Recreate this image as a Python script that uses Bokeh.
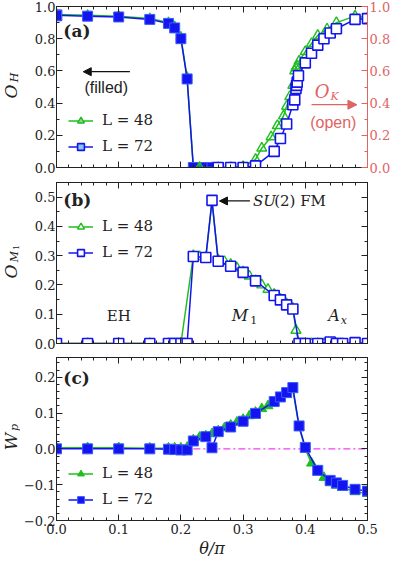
from math import pi
from bokeh.plotting import figure
from bokeh.layouts import column, row
from bokeh.models import (Range1d, LinearAxis, Label, Arrow, NormalHead, Legend, LegendItem,
                          SingleIntervalTicker, CustomJSTickFormatter, CustomLabelingPolicy)
from bokeh.embed import file_html
from bokeh.resources import INLINE

# ---------------- data ----------------
# panel (a): O_H (filled) and O_K (open)
theta_h72 = [0, 0.05, 0.10, 0.15, 0.18, 0.19, 0.20, 0.21, 0.22, 0.24, 0.25]
oh_72 = [0.945, 0.94, 0.935, 0.92, 0.895, 0.867, 0.80, 0.55, 0.0, 0.0, 0.0]
theta_h48 = [0, 0.05, 0.10, 0.15, 0.18, 0.19, 0.20, 0.21, 0.22, 0.23, 0.25]
oh_48 = [0.95, 0.945, 0.94, 0.925, 0.90, 0.875, 0.81, 0.56, 0.0, 0.0, 0.0]

theta_k72 = [0.26, 0.28, 0.30, 0.32, 0.35, 0.36, 0.37, 0.38, 0.383, 0.385, 0.386, 0.387, 0.389,
             0.40, 0.41, 0.42, 0.43, 0.44, 0.45, 0.48, 0.50]
ok_72 = [0.0, 0.0, 0.0, 0.01, 0.10, 0.18, 0.27, 0.39, 0.42, 0.49, 0.51, 0.53, 0.57,
         0.65, 0.71, 0.76, 0.80, 0.835, 0.862, 0.92, 0.925]
theta_k48 = [0.23, 0.26, 0.28, 0.30, 0.32, 0.33, 0.345, 0.355, 0.365, 0.37, 0.375, 0.38, 0.383,
             0.385, 0.387, 0.39, 0.40, 0.41, 0.42, 0.435, 0.45, 0.48, 0.50]
ok_48 = [0.0, 0.0, 0.0, 0.005, 0.05, 0.12, 0.19, 0.26, 0.32, 0.38, 0.44, 0.51, 0.60,
         0.62, 0.63, 0.66, 0.72, 0.77, 0.82, 0.86, 0.90, 0.94, 0.93]

# panels (b), (c)
theta72 = [0, 0.05, 0.10, 0.15, 0.18, 0.19, 0.20, 0.21, 0.22, 0.24, 0.25, 0.26, 0.28, 0.30,
           0.32, 0.35, 0.36, 0.37, 0.38, 0.39, 0.40, 0.42, 0.44, 0.45, 0.46, 0.48, 0.50]
om1_72 = [0, 0, 0, 0, 0, 0, 0, 0, 0.297, 0.294, 0.489, 0.281, 0.264, 0.243,
          0.214, 0.164, 0.149, 0.132, 0.118, 0, 0, 0, 0.005, 0, 0, 0.003, 0]
wp_72 = [0, 0, 0, 0, -0.001, -0.002, -0.003, -0.003, 0.022, 0.034, 0.003, 0.048, 0.061, 0.077,
         0.099, 0.132, 0.145, 0.157, 0.171, 0.064, 0.004, -0.060, -0.088, -0.095, -0.102, -0.113, -0.118]

theta48_b = [0, 0.05, 0.10, 0.15, 0.18, 0.19, 0.20, 0.22, 0.23, 0.24, 0.25, 0.26, 0.27, 0.28,
             0.29, 0.30, 0.31, 0.32, 0.33, 0.34, 0.35, 0.36, 0.37, 0.38, 0.385, 0.39, 0.40,
             0.41, 0.42, 0.43, 0.44, 0.45, 0.46, 0.48, 0.50]
om1_48 = [0, 0, 0, 0, 0, 0, 0, 0.300, 0.297, 0.293, 0.485, 0.285, 0.280, 0.270,
          0.258, 0.245, 0.230, 0.215, 0.200, 0.185, 0.168, 0.152, 0.135, 0.120, 0.045, 0, 0,
          0, 0, 0, 0, 0, 0, 0, 0]
theta48_c = [0, 0.05, 0.10, 0.15, 0.18, 0.19, 0.20, 0.21, 0.22, 0.23, 0.24, 0.25, 0.26, 0.27,
             0.28, 0.29, 0.30, 0.31, 0.32, 0.33, 0.34, 0.35, 0.36, 0.37, 0.38, 0.39, 0.40,
             0.41, 0.42, 0.43, 0.44, 0.45, 0.46, 0.48, 0.50]
wp_48 = [0.003, 0.003, 0.003, 0.002, 0.002, 0.002, 0.002, 0.004, 0.025, 0.032, 0.036, 0.042, 0.050, 0.058,
         0.066, 0.074, 0.082, 0.092, 0.102, 0.112, 0.120, 0.130, 0.140, 0.152, 0.165, 0.060, 0.000,
         -0.040, -0.065, -0.080, -0.095, -0.102, -0.108, -0.120, -0.125]

ref_x = [0.22, 0.50]
ref_y = [0.0, 0.0]

# ---------------- style ----------------
GREEN = "#1fbf1f"
BLUE = "#1414f0"
LBLUE = "#86c8ec"
LGREEN = "#93cf93"
RED = "#e06464"
MAG = "#f040f0"
SERIF = "DejaVu Serif"
SANS = "Liberation Sans"
TXT = "#222222"

LW = 20          # width of the strip that holds the y-axis titles
W = 393 - LW
LB, RB = 33, 25
HA, HB, HC = 174, 176, 212

fmt_code = "var s = tick.toFixed(1); if (Math.abs(tick) < 1e-9) { s = '0.0'; } return s.replace('-', '\u2212');"
hide_code = "for (let i = 0; i < indices.size; i++) { indices.unset(i); } return indices;"


def style_axis(ax, labels, color="#222222", label_color=TXT):
    ax.major_tick_in = 6
    ax.major_tick_out = 0
    ax.minor_tick_in = 3
    ax.minor_tick_out = 0
    ax.axis_line_color = color
    ax.major_tick_line_color = color
    ax.minor_tick_line_color = color
    if labels:
        ax.formatter = CustomJSTickFormatter(code=fmt_code)
        ax.major_label_text_font = SERIF
        ax.major_label_text_font_size = "13px"
        ax.major_label_text_color = label_color
        ax.major_label_standoff = 3
    else:
        ax.major_label_policy = CustomLabelingPolicy(code=hide_code)
        ax.major_label_text_font_size = "1px"
        ax.major_label_standoff = 0


def make_fig(height, yr, top, bottom, yint, yminor, xlabels=False, right_red=False):
    p = figure(width=W, height=height, x_range=Range1d(0, 0.5), y_range=Range1d(*yr),
               output_backend="svg", toolbar_location=None,
               min_border_left=LB, min_border_right=RB, min_border_top=top, min_border_bottom=bottom)
    p.xgrid.visible = False
    p.ygrid.visible = False
    p.outline_line_color = "#222222"
    xt = SingleIntervalTicker(interval=0.1, num_minor_ticks=5)
    yt = SingleIntervalTicker(interval=yint, num_minor_ticks=yminor)
    bottom_ax = p.below[0]
    left_ax = p.left[0]
    bottom_ax.ticker = xt
    left_ax.ticker = yt
    style_axis(bottom_ax, xlabels)
    style_axis(left_ax, True)
    left_ax.major_label_standoff = 1
    top_ax = LinearAxis(ticker=xt)
    style_axis(top_ax, False)
    p.add_layout(top_ax, "above")
    right_ax = LinearAxis(ticker=yt)
    if right_red:
        style_axis(right_ax, True, color=RED, label_color=RED)
        right_ax.major_label_standoff = 2
    else:
        style_axis(right_ax, False)
    p.add_layout(right_ax, "right")
    return p, bottom_ax


def txt(p, x, y, text, size, font=SERIF, style="normal", color=TXT, align="left",
        baseline="middle", angle=0, xo=0, yo=0, lh=1.2):
    p.add_layout(Label(x=x, y=y, text=text, text_font=font, text_font_size=size,
                       text_font_style=style, text_color=color, text_align=align,
                       text_baseline=baseline, angle=angle, x_offset=xo, y_offset=yo,
                       text_line_height=lh))


def legend(p, items, loc):
    lg = Legend(items=items, location=loc, background_fill_alpha=0, border_line_alpha=0,
                padding=0, margin=0, glyph_width=25, glyph_height=17, label_height=17,
                label_standoff=9, spacing=8, label_text_font=SERIF, label_text_font_size="15px",
                label_text_color=TXT)
    p.add_layout(lg)


def arrow(p, x0, x1, y, color, size=8):
    p.add_layout(Arrow(end=NormalHead(size=size, fill_color=color, line_color=color),
                       x_start=x0, y_start=y, x_end=x1, y_end=y,
                       line_color=color, line_width=1.3))


# ---------------- panel (a) ----------------
pa, _ = make_fig(HA, (0, 1.0), 6, 7, 0.2, 2, right_red=True)
# legend-style renderers (lie under the first data point, so they are hidden)
lga2 = pa.scatter(theta_h48[:1], oh_48[:1], marker="triangle", size=10, fill_color=LGREEN,
                  line_color=GREEN, line_width=1.4)
lga4 = pa.scatter(theta_h72[:1], oh_72[:1], marker="square", size=10, fill_color=LBLUE,
                  line_color=BLUE, line_width=1.6)
la1 = pa.line(theta_h48, oh_48, color=GREEN, line_width=1.5)
pa.scatter(theta_h48, oh_48, marker="triangle", size=10, fill_color=GREEN, line_color=GREEN)
la3 = pa.line(theta_h72, oh_72, color=BLUE, line_width=1.5)
pa.scatter(theta_h72, oh_72, marker="square", size=10, fill_color=BLUE, line_color="#3a5cff")
pa.line(theta_k48, ok_48, color=GREEN, line_width=1.5)
pa.scatter(theta_k48, ok_48, marker="triangle", size=10, fill_color="white", fill_alpha=0,
           line_color=GREEN, line_width=1.4)
pa.line(theta_k72, ok_72, color=BLUE, line_width=1.5)
pa.scatter(theta_k72, ok_72, marker="square", size=10, fill_color="white",
           line_color=BLUE, line_width=1.6)

legend(pa, [LegendItem(label="L = 48", renderers=[la1, lga2]),
            LegendItem(label="L = 72", renderers=[la3, lga4])], (12, 12))

txt(pa, 0.011, 0.85, "(a)", "17px", style="bold")
arrow(pa, 0.118, 0.043, 0.595, "#111111")
txt(pa, 0.08, 0.50, "(filled)", "16px", font=SANS, align="center")
txt(pa, 0.427, 0.47, "O", "18px", style="italic", color=RED, align="center")
txt(pa, 0.447, 0.44, "K", "11px", style="italic", color=RED, align="center")
arrow(pa, 0.41, 0.483, 0.39, RED, size=9)
txt(pa, 0.445, 0.28, "(open)", "16px", font=SANS, color=RED, align="center")

# ---------------- panel (b) ----------------
pb, _ = make_fig(HB, (0, 0.55), 8, 7, 0.1, 2)
lb1 = pb.line(theta48_b, om1_48, color=GREEN, line_width=1.5)
lb2 = pb.scatter(theta48_b, om1_48, marker="triangle", size=10, fill_color="white",
                 line_color=GREEN, line_width=1.4)
lb3 = pb.line(theta72, om1_72, color=BLUE, line_width=1.5)
lb4 = pb.scatter(theta72, om1_72, marker="square", size=10, fill_color="white",
                 line_color=BLUE, line_width=1.6)
legend(pb, [LegendItem(label="L = 48", renderers=[lb1, lb2]),
            LegendItem(label="L = 72", renderers=[lb3, lb4])], (12, 82))

txt(pb, 0.011, 0.49, "(b)", "17px", style="bold")
arrow(pb, 0.311, 0.262, 0.487, "#111111")
txt(pb, 0.316, 0.487, "SU", "15px", style="italic")
txt(pb, 0.350, 0.487, "(2) FM", "15px")
txt(pb, 0.10, 0.095, "EH", "15px", align="center")
txt(pb, 0.295, 0.095, "M", "16px", style="italic", align="center")
txt(pb, 0.317, 0.080, "1", "11px", align="center")
txt(pb, 0.446, 0.095, "A", "16px", style="italic", align="center")
txt(pb, 0.462, 0.080, "x", "11px", style="italic", align="center")

# ---------------- panel (c) ----------------
pc, xax_c = make_fig(HC, (-0.2, 0.255), 7, 42, 0.1, 5, xlabels=True)
xax_c.axis_label = "θ/π"
xax_c.axis_label_text_font = SERIF
xax_c.axis_label_text_font_style = "italic"
xax_c.axis_label_text_font_size = "16px"
xax_c.axis_label_text_color = TXT
xax_c.axis_label_standoff = 2

pc.line(ref_x, ref_y, color=MAG, line_width=1.2, line_dash="7 3 2 3")
lc1 = pc.line(theta48_c, wp_48, color=GREEN, line_width=1.5)
lc2 = pc.scatter(theta48_c, wp_48, marker="triangle", size=10, fill_color=GREEN, line_color=GREEN)
lc3 = pc.line(theta72, wp_72, color=BLUE, line_width=1.5)
lc4 = pc.scatter(theta72, wp_72, marker="square", size=10, fill_color=BLUE, line_color="#3a5cff")
legend(pc, [LegendItem(label="L = 48", renderers=[lc1, lc2]),
            LegendItem(label="L = 72", renderers=[lc3, lc4])], (12, 12))

txt(pc, 0.011, 0.199, "(c)", "17px", style="bold")

# ---------------- y-axis titles strip ----------------
HT = HA + HB + HC
pl = figure(width=LW, height=HT, x_range=Range1d(0, LW), y_range=Range1d(0, HT),
            output_backend="svg", toolbar_location=None, min_border=0)
pl.axis.visible = False
pl.grid.visible = False
pl.outline_line_color = None
# (a)  O_H
txt(pl, 10, HT - 91, "O", "17px", style="italic", align="center", angle=pi / 2, lh=1.0)
txt(pl, 13.5, HT - 77, "H", "11px", style="italic", align="center", angle=pi / 2, lh=1.0)
# (b)  O_{M_1}
txt(pl, 10, HT - 271, "O", "17px", style="italic", align="center", angle=pi / 2, lh=1.0)
txt(pl, 13.5, HT - 256, "M", "11px", style="italic", align="center", angle=pi / 2, lh=1.0)
txt(pl, 15.5, HT - 247, "1", "8px", align="center", angle=pi / 2, lh=1.0)
# (c)  W_p
txt(pl, 10, HT - 441, "W", "17px", style="italic", align="center", angle=pi / 2, lh=1.0)
txt(pl, 13.5, HT - 427, "p", "11px", style="italic", align="center", angle=pi / 2, lh=1.0)

layout = row(pl, column(pa, pb, pc, spacing=0), spacing=0)
open("out.html", "w").write(file_html(layout, INLINE))
